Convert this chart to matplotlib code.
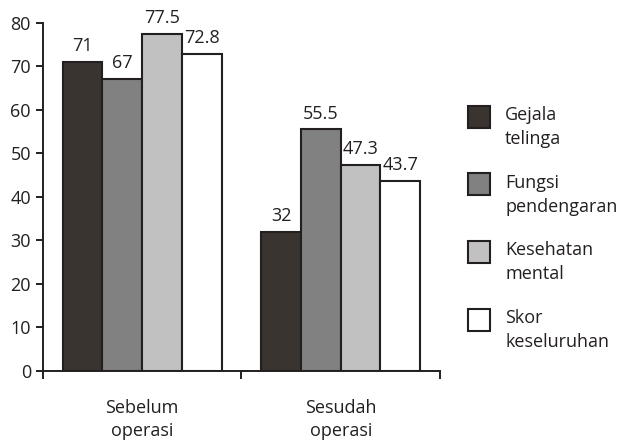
import numpy as np
import matplotlib.pyplot as plt
from matplotlib.patches import Rectangle

plt.rcParams['font.family'] = ['Open Sans', 'DejaVu Sans']

groups = ["Sebelum\noperasi", "Sesudah\noperasi"]
series = ["Gejala\ntelinga", "Fungsi\npendengaran", "Kesehatan\nmental", "Skor\nkeseluruhan"]
values = [[71, 32], [67, 55.5], [77.5, 47.3], [72.8, 43.7]]
labels = [["71", "32"], ["67", "55.5"], ["77.5", "47.3"], ["72.8", "43.7"]]
colors = ["#3a3431", "#818181", "#c1c1c1", "#ffffff"]
edge = "#231f20"

W, H = 619, 440
fig = plt.figure(figsize=(W / 100, H / 100), dpi=100)
ax = fig.add_axes([0.069, 0.157, 0.642, 0.791])

x = np.arange(len(groups))
w = 0.2
for i in range(len(series)):
    pos = x + (i - 1.5) * w
    ax.bar(pos, values[i], w, color=colors[i], edgecolor=edge, linewidth=1.5)
    for xp, v, t in zip(pos, values[i], labels[i]):
        ax.text(xp, v + 1.6, t, ha="center", va="bottom", fontsize=13, color="#231f20")

ax.set_xlim(-0.5, 1.5)
ax.set_ylim(0, 80)
ax.set_yticks(range(0, 81, 10))
ax.tick_params(axis="y", labelsize=13, length=5, width=1.4, color=edge, labelcolor="#231f20")
ax.set_xticks([-0.5, 0.5, 1.5])
ax.set_xticklabels([])
ax.set_xticks(x, minor=True)
ax.set_xticklabels(groups, minor=True, fontsize=13, color="#231f20", linespacing=1.4)
ax.tick_params(axis="x", which="major", length=6, width=1.4, color=edge)
ax.tick_params(axis="x", which="minor", length=0, pad=20)
for s in ["top", "right"]:
    ax.spines[s].set_visible(False)
for s in ["left", "bottom"]:
    ax.spines[s].set_linewidth(1.4)
    ax.spines[s].set_color(edge)

# legend drawn by hand: first line level with the swatch
for i in range(len(series)):
    cy = 117 + 67.5 * i
    fig.patches.append(Rectangle((468 / W, 1 - (cy + 11) / H), 22 / W, 22 / H,
                                 transform=fig.transFigure, facecolor=colors[i],
                                 edgecolor=edge, linewidth=1.5))
    fig.text(505 / W, 1 - (cy - 11) / H, series[i], ha="left", va="top",
             fontsize=13, color="#231f20", linespacing=1.45)

plt.savefig("out.png")
